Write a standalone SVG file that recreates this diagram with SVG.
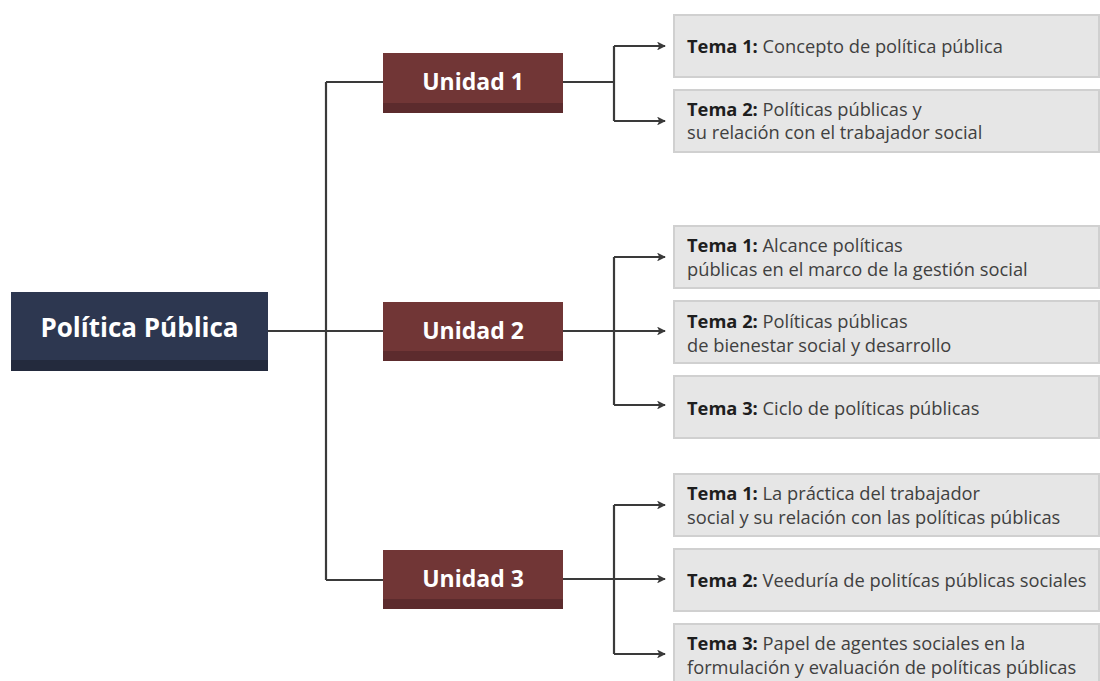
<svg xmlns="http://www.w3.org/2000/svg" width="1100" height="681" viewBox="0 0 1100 681">
<defs>
<marker id="arr" viewBox="0 0 10 10" refX="9" refY="5" markerWidth="4" markerHeight="4" orient="auto" markerUnits="strokeWidth">
<path d="M0,0 L10,5 L0,10 L2.5,5 Z" fill="#3a3a3a"/>
</marker>
<style>
.conn{fill:none;stroke:#3a3a3a;stroke-width:2.2}
.arrow{fill:none;stroke:#3a3a3a;stroke-width:2.2;marker-end:url(#arr)}
.tema{fill:#e6e6e6;stroke:#d0d0d0;stroke-width:2}
.tt{font-family:"Open Sans","Noto Sans",sans-serif;font-size:18.3px;fill:#404040}
.tb{font-weight:bold;fill:#1e1e1e}
.ufill{fill:#713636}
.uband{fill:#5c2b2d}
.ut{font-family:"Open Sans","Noto Sans",sans-serif;font-size:23px;font-weight:bold;fill:#ffffff;text-anchor:middle}
</style>
</defs>
<rect width="1100" height="681" fill="#ffffff"/>
<g id="connectors">
<path class="conn" d="M268,331 H326 M326,82 V580 M326,82 H383 M326,331 H383 M326,580 H383"/>
<path class="conn" d="M563,82 H614 M614,46 V121"/>
<path class="arrow" d="M614,46 H665"/>
<path class="arrow" d="M614,121 H665"/>
<path class="conn" d="M614,257 V405"/>
<path class="arrow" d="M563,331 H665"/>
<path class="arrow" d="M614,257 H665"/>
<path class="arrow" d="M614,405 H665"/>
<path class="conn" d="M614,505 V654"/>
<path class="arrow" d="M563,579 H665"/>
<path class="arrow" d="M614,505 H665"/>
<path class="arrow" d="M614,654 H665"/>
</g>
<g id="politica-publica">
<rect x="11" y="292" width="257" height="79" fill="#2d3750"/>
<rect x="11" y="360" width="257" height="11" fill="#232a3d"/>
<text x="139.5" y="337" font-family="Open Sans, Noto Sans, sans-serif" font-size="26" font-weight="bold" fill="#ffffff" text-anchor="middle">Política Pública</text>
</g>
<g id="unidad-1">
<rect class="ufill" x="383" y="53" width="180" height="60"/>
<rect class="uband" x="383" y="103" width="180" height="10"/>
<text class="ut" x="473" y="90">Unidad 1</text>
</g>
<g id="unidad-2">
<rect class="ufill" x="383" y="302" width="180" height="59"/>
<rect class="uband" x="383" y="351" width="180" height="10"/>
<text class="ut" x="473" y="339">Unidad 2</text>
</g>
<g id="unidad-3">
<rect class="ufill" x="383" y="550" width="180" height="59"/>
<rect class="uband" x="383" y="599" width="180" height="10"/>
<text class="ut" x="473" y="587">Unidad 3</text>
</g>
<g id="u1-tema-1">
<rect class="tema" x="674" y="15" width="425" height="62"/>
<text class="tt" x="687" y="53"><tspan class="tb">Tema 1:</tspan> Concepto de política pública</text>
</g>
<g id="u1-tema-2">
<rect class="tema" x="674" y="90" width="425" height="62"/>
<text class="tt" x="687" y="116"><tspan class="tb">Tema 2:</tspan> Políticas públicas y</text>
<text class="tt" x="687" y="139">su relación con el trabajador social</text>
</g>
<g id="u2-tema-1">
<rect class="tema" x="674" y="226" width="425" height="62"/>
<text class="tt" x="687" y="252"><tspan class="tb">Tema 1:</tspan> Alcance políticas</text>
<text class="tt" x="687" y="276">públicas en el marco de la gestión social</text>
</g>
<g id="u2-tema-2">
<rect class="tema" x="674" y="301" width="425" height="62"/>
<text class="tt" x="687" y="328"><tspan class="tb">Tema 2:</tspan> Políticas públicas</text>
<text class="tt" x="687" y="352">de bienestar social y desarrollo</text>
</g>
<g id="u2-tema-3">
<rect class="tema" x="674" y="376" width="425" height="62"/>
<text class="tt" x="687" y="415"><tspan class="tb">Tema 3:</tspan> Ciclo de políticas públicas</text>
</g>
<g id="u3-tema-1">
<rect class="tema" x="674" y="474" width="425" height="62"/>
<text class="tt" x="687" y="500"><tspan class="tb">Tema 1:</tspan> La práctica del trabajador</text>
<text class="tt" x="687" y="524">social y su relación con las políticas públicas</text>
</g>
<g id="u3-tema-2">
<rect class="tema" x="674" y="549" width="425" height="62"/>
<text class="tt" x="687" y="587"><tspan class="tb">Tema 2:</tspan> Veeduría de politícas públicas sociales</text>
</g>
<g id="u3-tema-3">
<rect class="tema" x="674" y="624" width="425" height="62"/>
<text class="tt" x="687" y="650"><tspan class="tb">Tema 3:</tspan> Papel de agentes sociales en la</text>
<text class="tt" x="687" y="674">formulación y evaluación de políticas públicas</text>
</g>
</svg>
